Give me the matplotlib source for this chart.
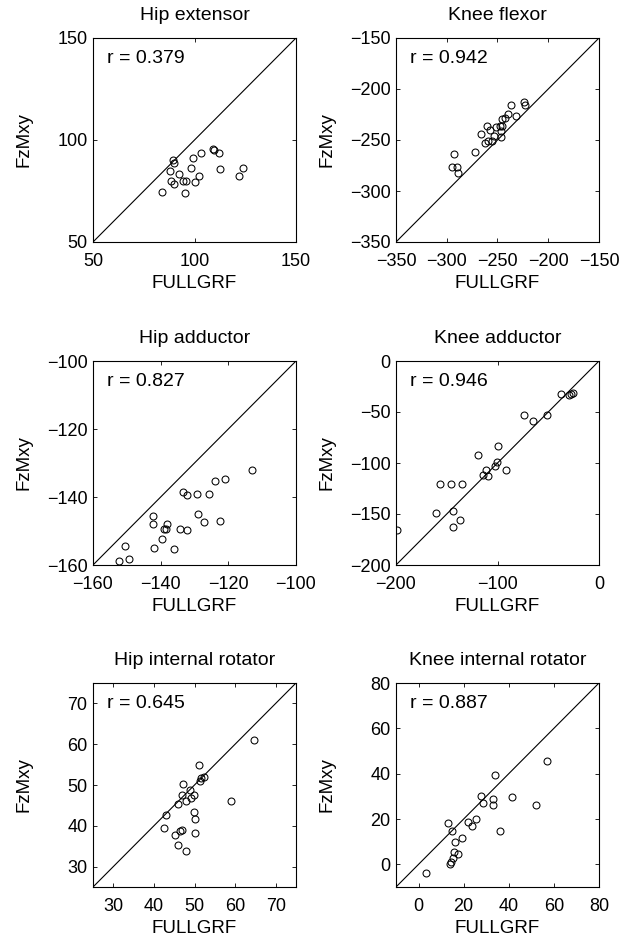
import matplotlib
matplotlib.use("Agg")
import matplotlib.pyplot as plt

plt.rcParams['font.family'] = ['Liberation Sans', 'DejaVu Sans']

titles = ["Hip extensor", "Knee flexor", "Hip adductor", "Knee adductor",
          "Hip internal rotator", "Knee internal rotator"]
r_values = ["0.379", "0.942", "0.827", "0.946", "0.645", "0.887"]

hip_ext_x = [89.3, 90.0, 87.7, 92.3, 88.4, 89.7, 84.1, 95.2, 94.3, 95.9, 98.5, 99.5,
             103.4, 100.2, 102.1, 109.0, 109.7, 112.3, 112.6, 121.8, 124.1]
hip_ext_y = [90.0, 88.7, 84.9, 83.2, 79.8, 78.5, 74.7, 73.9, 79.8, 79.9, 86.5, 91.1,
             93.6, 79.6, 82.4, 95.6, 94.9, 93.6, 85.7, 82.4, 86.2]

knee_flex_x = [-293.0, -295.3, -289.7, -288.7, -272.6, -266.1, -260.8, -257.5, -262.1,
               -258.9, -255.6, -253.6, -251.6, -247.7, -245.1, -245.7, -247.0, -246.4,
               -242.5, -239.8, -236.6, -231.3, -223.4, -222.8]
knee_flex_y = [-264.2, -276.7, -276.0, -282.2, -261.3, -244.3, -236.7, -240.0, -252.5,
               -251.1, -250.5, -245.9, -237.4, -236.1, -236.1, -229.5, -241.3, -247.5,
               -228.2, -224.6, -215.8, -226.9, -213.2, -215.8]

hip_add_x = [-152.3, -149.5, -150.5, -142.1, -142.3, -142.3, -139.7, -139.1, -138.4,
             -138.0, -136.2, -134.4, -132.3, -133.3, -132.1, -129.3, -125.6, -128.9,
             -127.1, -122.6, -123.8, -121.1, -113.0]
hip_add_y = [-158.9, -158.1, -154.4, -155.0, -145.7, -147.9, -152.4, -149.5, -149.5,
             -147.9, -155.2, -149.3, -149.7, -138.5, -139.5, -139.0, -139.2, -145.1,
             -147.3, -147.2, -135.4, -134.7, -132.2]

knee_add_x = [-199.5, -161.0, -143.9, -143.9, -137.4, -157.0, -145.9, -135.4, -119.7,
              -114.4, -111.1, -109.8, -102.0, -100.7, -99.3, -92.1, -73.8, -64.6,
              -50.8, -37.7, -29.8, -27.9, -25.9]
knee_add_y = [-165.6, -149.2, -147.2, -163.0, -156.1, -121.0, -121.0, -121.0, -91.8,
              -111.8, -106.6, -112.5, -102.6, -98.7, -83.0, -107.2, -53.4, -58.4,
              -52.5, -32.8, -33.4, -32.5, -31.1]

hip_rot_x = [64.6, 51.1, 51.3, 51.7, 52.4, 47.1, 46.8, 48.8, 49.1, 49.8, 47.9, 46.0,
             43.0, 42.5, 45.1, 46.5, 46.8, 46.0, 47.8, 49.9, 50.1, 50.1, 58.9]
hip_rot_y = [61.0, 54.9, 51.1, 51.6, 52.0, 50.3, 47.5, 48.7, 46.7, 47.5, 46.2, 45.4,
             42.6, 39.5, 37.8, 38.7, 38.9, 35.4, 33.8, 43.3, 41.7, 38.2, 46.2]

knee_rot_x = [3.1, 14.0, 14.3, 15.2, 15.8, 17.3, 16.1, 19.4, 12.9, 14.9, 22.0, 23.8,
              25.3, 27.6, 28.5, 33.2, 33.2, 34.1, 35.9, 41.5, 52.1, 57.1]
knee_rot_y = [-3.7, 0.0, 1.2, 2.9, 5.6, 4.7, 10.0, 11.8, 18.2, 14.6, 18.5, 16.8,
              20.0, 30.3, 27.1, 28.8, 26.2, 39.4, 14.6, 29.9, 26.2, 45.7]

limits = [(50, 150), (-350, -150), (-160, -100), (-200, 0), (25, 75), (-10, 80)]
xticks = [[50, 100, 150], [-350, -300, -250, -200, -150], [-160, -140, -120, -100],
          [-200, -100, 0], [30, 40, 50, 60, 70], [0, 20, 40, 60, 80]]
yticks = [[50, 100, 150], [-350, -300, -250, -200, -150], [-160, -140, -120, -100],
          [-200, -150, -100, -50, 0], [30, 40, 50, 60, 70], [0, 20, 40, 60, 80]]

xs = [hip_ext_x, knee_flex_x, hip_add_x, knee_add_x, hip_rot_x, knee_rot_x]
ys = [hip_ext_y, knee_flex_y, hip_add_y, knee_add_y, hip_rot_y, knee_rot_y]

fig = plt.figure(figsize=(6.21, 9.41), dpi=100)
lefts = [93 / 621, 396 / 621]
bottoms = [1 - 242 / 941, 1 - 565 / 941, 1 - 887 / 941]
w = 203 / 621
h = 204 / 941

for i in range(6):
    row, col = divmod(i, 2)
    ax = fig.add_axes([lefts[col], bottoms[row], w, h])
    lo, hi = limits[i]
    ax.plot([lo, hi], [lo, hi], color='black', lw=0.8)
    ax.plot(xs[i], ys[i], linestyle='none', marker='o', markersize=5,
            markerfacecolor='none', markeredgecolor='black', markeredgewidth=0.75)
    ax.set_xlim(lo, hi)
    ax.set_ylim(lo, hi)
    ax.set_xticks(xticks[i])
    ax.set_yticks(yticks[i])
    ax.tick_params(direction='in', top=True, right=True, labelsize=13, length=3,
                   width=0.6)
    ax.tick_params(axis='x', pad=8)
    ax.tick_params(axis='y', pad=4)
    for s in ax.spines.values():
        s.set_linewidth(0.8)
    ax.set_title(titles[i], fontsize=14, pad=13)
    ax.set_xlabel("FULLGRF", fontsize=13.5)
    ax.xaxis.set_label_coords(0.5, -0.16)
    ax.set_ylabel("FzMxy", fontsize=13.5)
    ax.yaxis.set_label_coords(-0.30, 0.5)
    ax.text(0.07, 0.9, "r = " + r_values[i], transform=ax.transAxes, fontsize=14,
            ha='left', va='center')

fig.savefig("out.png", dpi=100)
